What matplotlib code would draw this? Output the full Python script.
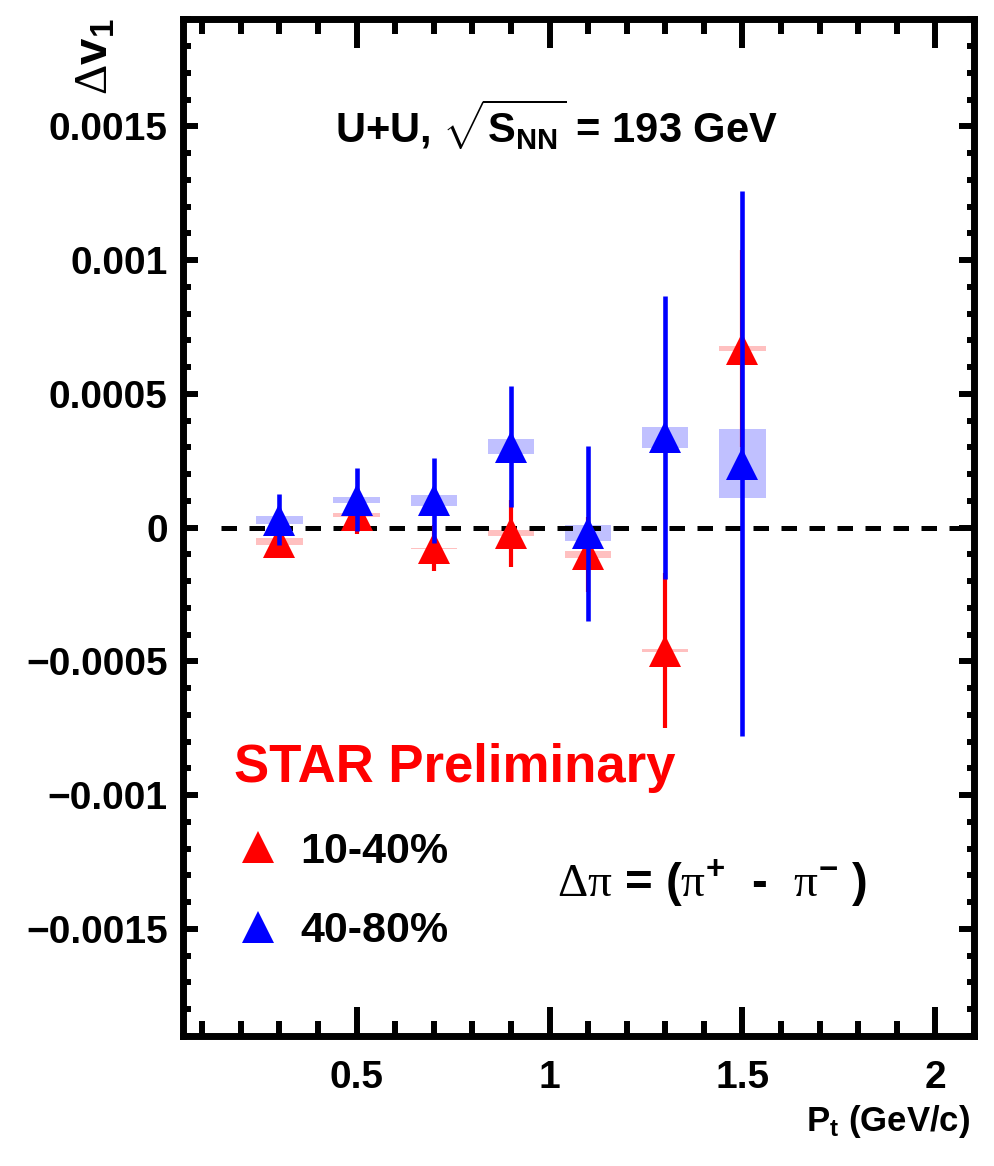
import matplotlib
matplotlib.use('Agg')
import matplotlib.pyplot as plt
from matplotlib.lines import Line2D
from matplotlib.ticker import FixedLocator, FixedFormatter, MultipleLocator

# ---- data ----
pt = [0.3, 0.5, 0.7, 0.9, 1.1, 1.3, 1.5]

red_dv1 = [-0.000052, 0.000048, -0.000076, -0.00002, -0.0001, -0.00046, 0.00067]
red_err = [0.00003, 0.00007, 0.000086, 0.000125, 0.00014, 0.00029, 0.00037]
red_sys = [0.000013, 0.0000075, 0.000002, 0.00001, 0.000014, 0.000005, 0.0000075]

blue_dv1 = [0.00003, 0.000105, 0.000102, 0.000303, -0.00002, 0.000338, 0.00024]
blue_err = [0.000095, 0.000118, 0.00016, 0.000227, 0.000327, 0.00053, 0.00102]
blue_sys = [0.000015, 0.000011, 0.00002, 0.000027, 0.000029, 0.000039, 0.00013]

series_labels = ['10-40%', '40-80%']

xtick_vals = [0.5, 1.0, 1.5, 2.0]
xtick_labels = ['0.5', '1', '1.5', '2']
ytick_vals = [0.0015, 0.001, 0.0005, 0.0, -0.0005, -0.001, -0.0015]
ytick_labels = ['0.0015', '0.001', '0.0005', '0', '\u22120.0005', '\u22120.001', '\u22120.0015']

# ---- style ----
plt.rcParams['font.family'] = ['Liberation Sans', 'DejaVu Sans']
plt.rcParams['mathtext.fontset'] = 'custom'
plt.rcParams['mathtext.rm'] = 'Liberation Sans:bold'
plt.rcParams['mathtext.it'] = 'Liberation Sans:bold'
plt.rcParams['mathtext.bf'] = 'Liberation Sans:bold'
plt.rcParams['mathtext.cal'] = 'Liberation Serif:normal'

RED = '#ff0000'
BLUE = '#0000ff'
RED_SYS = '#ffc0c0'
BLUE_SYS = '#c0c0ff'

fig = plt.figure(figsize=(9.95, 11.66), dpi=100)
ax = fig.add_axes([0.1839, 0.1115, 0.7950, 0.8718])

box_w = 0.12
# systematic boxes
ax.bar(pt, [2 * s for s in red_sys], bottom=[v - s for v, s in zip(red_dv1, red_sys)],
       width=box_w, color=RED_SYS, linewidth=0, zorder=1)
ax.bar(pt, [2 * s for s in blue_sys], bottom=[v - s for v, s in zip(blue_dv1, blue_sys)],
       width=box_w, color=BLUE_SYS, linewidth=0, zorder=1.1)

# zero line
ax.axhline(0, xmin=0.048, xmax=1.0, color='black', lw=3.6, dashes=(3.1, 2.5), zorder=2)

# statistical error bars and markers
ax.errorbar(pt, red_dv1, yerr=red_err, fmt='none', ecolor=RED, elinewidth=3.0, capsize=0, zorder=3)
ax.plot(pt, red_dv1, ls='none', marker='^', ms=23, color=RED, mew=0, zorder=3.5)
ax.errorbar(pt, blue_dv1, yerr=blue_err, fmt='none', ecolor=BLUE, elinewidth=3.3, capsize=0, zorder=4)
ax.plot(pt, blue_dv1, ls='none', marker='^', ms=23, color=BLUE, mew=0, zorder=4.5)

# axes
ax.set_xlim(0.05, 2.1)
ax.set_ylim(-0.0019, 0.0019)
ax.xaxis.set_major_locator(FixedLocator(xtick_vals))
ax.xaxis.set_major_formatter(FixedFormatter(xtick_labels))
ax.xaxis.set_minor_locator(MultipleLocator(0.1))
ax.yaxis.set_major_locator(FixedLocator(ytick_vals))
ax.yaxis.set_major_formatter(FixedFormatter(ytick_labels))
ax.yaxis.set_minor_locator(MultipleLocator(0.0001))

ax.tick_params(which='both', direction='in', top=True, right=True, width=4.3, color='black')
ax.tick_params(axis='x', which='major', length=21, pad=17, labelsize=28)
ax.tick_params(axis='x', which='minor', length=10.5)
ax.tick_params(axis='y', which='major', length=11, pad=11, labelsize=28)
ax.tick_params(axis='y', which='minor', length=5.4)
for lab in ax.get_xticklabels() + ax.get_yticklabels():
    lab.set_fontweight('bold')
for sp in ax.spines.values():
    sp.set_linewidth(5)
    sp.set_zorder(10)

ax.set_xlabel(r'P$_{\mathrm{t}}$ (GeV/c)', fontsize=25, fontweight='bold', ha='right', va='top')
ax.xaxis.set_label_coords(0.995, -0.066)
ax.set_ylabel(r'$\mathcal{\Delta}$v$_{1}$', fontsize=34, fontweight='bold')
ax.yaxis.label.set_rotation_mode('default')
ax.yaxis.label.set_ha('center')
ax.yaxis.label.set_va('top')
ax.yaxis.set_label_coords(-0.110, 1.0015)

# annotations
ax.text(0.472, 0.8785, r'U+U, $\sqrt{\mathrm{S}_{\mathrm{NN}}}$ = 193 GeV', transform=ax.transAxes,
        ha='center', va='baseline', fontsize=30, fontweight='bold')
ax.text(0.064, 0.2499, 'STAR Preliminary', transform=ax.transAxes, color=RED,
        ha='left', va='baseline', fontsize=38, fontweight='bold')
ax.text(0.473, 0.1367, r'$\mathcal{\Delta\pi}$ = ($\mathcal{\pi}^{+}$  -  $\mathcal{\pi}^{-}$ )',
        transform=ax.transAxes, ha='left', va='baseline', fontsize=34, fontweight='bold')

handles = [Line2D([], [], ls='none', marker='^', ms=23, color=RED, mew=0),
           Line2D([], [], ls='none', marker='^', ms=23, color=BLUE, mew=0)]
ax.legend(handles, series_labels, loc='center left', bbox_to_anchor=(0.0673, 0.1423),
          frameon=False, handlelength=1.0, handletextpad=0.48,
          labelspacing=0.92, borderpad=0, borderaxespad=0,
          prop={'weight': 'bold', 'size': 31})

fig.savefig('out.png', dpi=100)
